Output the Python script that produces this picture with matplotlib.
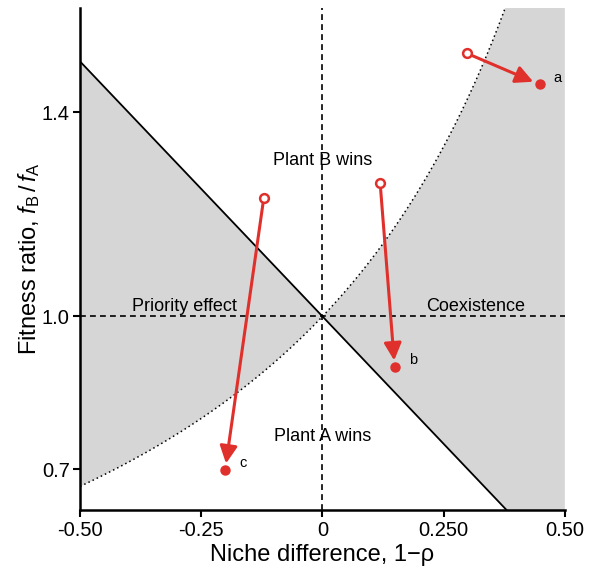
import numpy as np
import matplotlib
matplotlib.use('Agg')
from matplotlib import pyplot as plt

plt.rcParams['font.family'] = ['Liberation Sans', 'DejaVu Sans']
plt.rcParams['mathtext.fontset'] = 'custom'
plt.rcParams['mathtext.it'] = 'Liberation Sans:italic'
plt.rcParams['mathtext.rm'] = 'Liberation Sans'

# shifts of the three plant pairs (open = before, filled = after)
labels = ['a', 'b', 'c']
start_x = [0.298, 0.119, -0.121]
start_y = [1.516, 1.261, 1.233]
end_x = [0.448, 0.149, -0.201]
end_y = [1.455, 0.900, 0.698]

xticks = [-0.5, -0.25, 0, 0.25, 0.5]
xticklabels = ['-0.50', '-0.25', '0', '0.250', '0.50']
yticks = [0.7, 1.0, 1.4]
yticklabels = ['0.7', '1.0', '1.4']

red = '#e0302c'
grey = '#d6d6d6'

fig = plt.figure(figsize=(5.89, 5.70), dpi=100)
ax = fig.add_axes([0.136, 0.105, 0.823, 0.881])

x = np.linspace(-0.5, 0.5, 500)
line = 1 - x
curve = 1 / (1 - x)
ax.fill_between(x, np.minimum(line, curve), np.maximum(line, curve), color=grey, lw=0, zorder=0)
ax.plot(x, line, color='black', lw=1.3, zorder=2)
ax.plot(x, curve, color='black', lw=1.1, ls=(0, (1, 2)), zorder=2)

ax.axhline(1.0, color='black', lw=1.2, ls=(0, (3.5, 2.5)), zorder=1)
ax.axvline(0.0, color='black', lw=1.2, ls=(0, (3.5, 2.5)), zorder=1)

for i in range(len(labels)):
    ax.annotate('', xy=(end_x[i], end_y[i]), xytext=(start_x[i], start_y[i]),
                arrowprops=dict(arrowstyle='-|>,head_length=1.0,head_width=0.5',
                                mutation_scale=10.5, color=red, lw=2.2,
                                shrinkA=4.5, shrinkB=5),
                zorder=4)
    ax.plot(start_x[i], start_y[i], 'o', ms=6.3, mfc='white', mec=red, mew=1.8, zorder=5)
    ax.plot(end_x[i], end_y[i], 'o', ms=6.5, color=red, zorder=5)
    ax.annotate(labels[i], xy=(end_x[i], end_y[i]), xytext=(10, 5),
                textcoords='offset points', fontsize=10.5, va='center', ha='left')

ax.text(0, 1.305, 'Plant B wins', ha='center', va='center', fontsize=13)
ax.text(0, 0.765, 'Plant A wins', ha='center', va='center', fontsize=13)
ax.text(-0.285, 1.002, 'Priority effect', ha='center', va='bottom', fontsize=13)
ax.text(0.315, 1.002, 'Coexistence', ha='center', va='bottom', fontsize=13)

ax.set_xlim(-0.5, 0.5)
ax.set_ylim(0.62, 1.605)
ax.set_xticks(xticks)
ax.set_xticklabels(xticklabels)
ax.set_yticks(yticks)
ax.set_yticklabels(yticklabels)
ax.tick_params(direction='out', length=5, width=1.5, labelsize=14.5, pad=2.5)
ax.spines['top'].set_visible(False)
ax.spines['right'].set_visible(False)
ax.spines['left'].set_linewidth(1.8)
ax.spines['bottom'].set_linewidth(1.8)

ax.set_xlabel('Niche difference, 1\u2212\u03c1', fontsize=17, labelpad=3.5)
ax.set_ylabel(r'Fitness ratio, $f_{\mathrm{B}}\,/\,f_{\mathrm{A}}$', fontsize=17, labelpad=0)

fig.savefig('out.png', dpi=100)
